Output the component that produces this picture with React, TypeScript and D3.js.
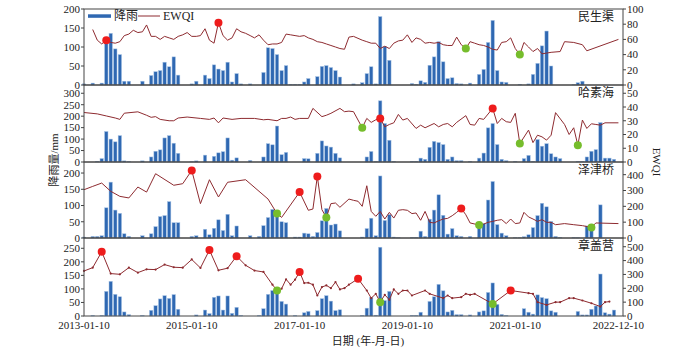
import React from 'react';
import * as d3 from 'd3';

// monthly rainfall (mm), Jan 2013 .. Dec 2022
const rainMSQ = [
  3, 0, 5, 0, 5, 116, 136, 95, 80, 10, 10, 0,
  0, 10, 0, 25, 35, 38, 60, 48, 74, 26, 0, 0,
  3, 10, 0, 26, 17, 53, 42, 38, 60, 8, 30, 3,
  0, 3, 0, 0, 33, 98, 96, 80, 38, 51, 2, 2,
  2, 8, 17, 0, 22, 49, 51, 46, 38, 21, 0, 0,
  3, 0, 6, 30, 48, 3, 180, 101, 65, 0, 0, 0,
  0, 4, 2, 11, 7, 52, 74, 114, 61, 17, 19, 4,
  3, 0, 5, 0, 28, 41, 112, 170, 38, 8, 7, 0,
  0, 2, 0, 3, 28, 57, 103, 142, 50, 0, 0, 0,
  0, 1, 6, 10, 0, 0, 0, 0, 0, 0, 0, 0,
];
const rainHSH = [
  0, 0, 0, 3, 15, 133, 100, 88, 115, 5, 2, 0,
  0, 5, 0, 22, 47, 53, 105, 115, 82, 38, 0, 0,
  2, 5, 0, 30, 0, 25, 40, 45, 105, 8, 18, 0,
  0, 7, 0, 0, 22, 80, 75, 157, 32, 42, 0, 0,
  0, 15, 14, 0, 38, 92, 70, 65, 38, 18, 0, 0,
  0, 0, 0, 22, 46, 3, 267, 168, 95, 3, 0, 0,
  0, 3, 3, 17, 12, 64, 90, 85, 76, 12, 22, 6,
  6, 0, 3, 0, 17, 39, 149, 168, 76, 12, 6, 0,
  3, 0, 15, 29, 3, 98, 69, 80, 36, 22, 15, 0,
  0, 0, 3, 3, 22, 47, 54, 172, 17, 17, 12, 0,
];
const rainZJQ = [
  3, 0, 5, 5, 7, 93, 172, 86, 76, 13, 5, 0,
  0, 7, 0, 13, 35, 66, 69, 112, 47, 47, 0, 0,
  5, 7, 0, 27, 10, 30, 56, 23, 73, 7, 37, 0,
  0, 7, 0, 5, 38, 63, 88, 76, 50, 47, 0, 3,
  3, 15, 13, 5, 17, 53, 91, 40, 43, 22, 0, 0,
  0, 0, 3, 29, 61, 7, 191, 54, 72, 3, 1, 0,
  0, 2, 2, 21, 5, 58, 86, 133, 70, 12, 29, 7,
  5, 0, 5, 0, 42, 44, 117, 174, 41, 15, 7, 0,
  1, 1, 4, 10, 32, 69, 107, 96, 51, 5, 2, 0,
  0, 2, 1, 0, 37, 32, 0, 102, 0, 0, 0, 0,
];
const rainZGY = [
  0, 0, 2, 0, 2, 91, 128, 80, 71, 15, 5, 0,
  0, 2, 0, 21, 38, 63, 75, 65, 79, 25, 0, 0,
  0, 4, 0, 22, 9, 69, 74, 22, 74, 10, 32, 2,
  0, 0, 0, 2, 27, 80, 94, 96, 54, 44, 0, 2,
  0, 12, 17, 0, 20, 64, 75, 55, 20, 23, 0, 0,
  0, 0, 2, 29, 69, 3, 254, 57, 91, 0, 0, 0,
  0, 2, 2, 14, 0, 54, 71, 117, 93, 15, 21, 5,
  5, 0, 4, 0, 15, 19, 87, 122, 43, 6, 2, 0,
  0, 0, 27, 14, 7, 78, 68, 64, 19, 14, 0, 0,
  0, 0, 17, 4, 4, 25, 37, 155, 12, 7, 22, 0,
];

// EWQI samples: month index (0 = 2013-01) and value
const monthsMSQ = [2, 3, 4, 5, 6, 7, 8, 9, 10, 11, 12, 13, 14, 15, 16, 17, 18, 19, 20, 21, 22, 23, 24, 25, 26, 27, 28, 29, 30, 31, 32, 33, 34, 35, 36, 37, 38, 39, 40, 41, 42, 43, 44, 45, 46, 47, 48, 49, 50, 51, 52, 53, 54, 55, 56, 57, 58, 59, 60,
  62, 63, 64, 65, 66, 67, 68, 69, 70, 71, 72, 73, 74, 75, 76, 77, 78, 79, 80, 81, 82, 83, 84, 85, 86, 87, 88, 89, 90, 91, 92, 93, 94, 95, 96, 97, 98, 99, 100, 101, 102, 103, 104,
  106, 107, 109, 111, 112, 119];
const ewqiMSQ = [73, 59, 54, 59, 56, 55, 57, 65, 67, 72, 69, 70, 79, 64, 64, 60, 64, 62, 60, 64, 66, 69, 64, 64, 65, 74, 59, 55, 82, 65, 59, 62, 74, 70, 68, 65, 62, 66, 59, 53, 54, 54, 56, 67, 66, 65, 64, 65, 62, 60, 57, 56, 54, 52, 50, 48, 47, 63, 64,
  59, 57, 55, 55, 48, 51, 48, 55, 58, 59, 66, 56, 62, 60, 55, 56, 55, 56, 53, 52, 52, 63, 53, 48, 57, 55, 53, 52, 50, 47, 46, 56, 57, 62, 48, 40, 56, 50, 44, 48, 41, 42, 43,
  44, 57, 56, 53, 45, 60];
const highMSQ = [5, 30];
const lowMSQ = [85, 97];

const monthsHSH = [0, 3, 5, 7, 8, 9, 12, 14, 15, 16, 17, 19, 20, 21, 23, 26, 28, 29, 30, 31, 33, 35, 38, 40, 41, 43, 44, 45, 46, 47, 48, 50, 51, 53, 54, 55, 57, 58,
  59, 60, 62, 63, 64, 65, 66, 67, 68, 69, 70, 71, 72, 74, 75, 76, 78, 79, 80, 81, 82, 83, 85, 86, 87, 88, 89, 91, 92, 93, 94, 95, 96, 97, 99, 100, 101, 102, 103, 104, 105, 107, 108, 109, 110, 111, 112, 113, 114, 115, 116, 119];
const ewqiHSH = [36, 35, 33.5, 32, 31, 35.5, 36.5, 34, 32.5, 33, 31, 30, 30, 32, 32.7, 31.7, 31, 32, 28.5, 32, 31, 31.7, 31.7, 30.7, 31, 30, 31.7, 31.7, 32.7, 31, 31.7, 31.7, 39, 33, 34, 35.4, 39, 36.6,
  37, 36.6, 24.9, 31.7, 28.8, 30.7, 31.7, 25.6, 27.3, 28.5, 34.6, 30.5, 31.7, 24.4, 26.8, 24.9, 28, 25.6, 27.3, 28, 25.6, 28.8, 33.7, 27.3, 26.8, 31.7, 31, 39, 28, 31.7, 29.3, 28.8, 35.4, 13.4, 23.2, 14.1, 19.5, 18.3, 15.9, 19.5, 35.9, 27.3, 20, 24.9, 12.2, 30.5, 24.4, 27.8, 27.3, 26.8, 28.5, 28.5];
const highHSH = [66, 91];
const lowHSH = [62, 97, 110];

const monthsZJQ = [0, 2, 4, 6, 8, 10, 12, 14, 16, 20, 22, 24, 26, 28, 30, 32, 36, 41, 43, 44, 48, 50, 51, 52, 53, 54, 55, 56, 57, 59,
  60, 61, 62, 63, 64, 65, 66, 67, 68, 69, 70, 71, 72, 73, 74, 75, 76, 77, 78, 79, 80, 81, 82, 83, 84, 85, 86,
  88, 89, 90, 91, 92, 93, 94, 95, 96, 97, 98, 99, 100, 101, 102, 103, 104, 105, 107, 109, 111, 113, 114, 119];
const ewqiZJQ = [305, 326, 347, 295, 263, 253, 322, 290, 406, 333, 343, 427, 217, 368, 259, 352, 368, 246, 154, 130, 290, 175, 183, 389, 179, 130, 217, 221, 194, 246,
  238, 232, 200, 330, 168, 137, 168, 120, 162, 126, 175, 179, 175, 154, 158, 112, 168, 99, 95, 109, 120, 124, 141, 162, 187, 147, 95,
  82, 88, 99, 105, 112, 116, 91, 120, 91, 95, 162, 133, 120, 105, 116, 99, 99, 84, 91, 84, 78, 67, 95, 91];
const highZJQ = [24, 48, 52, 84];
const lowZJQ = [43, 54, 88, 113];

const monthsZGY = [0, 2, 4, 6, 8, 10, 12, 14, 16, 18, 20, 22, 24, 26, 28, 30, 32, 34, 36, 38, 40,
  42, 43, 44, 45, 46, 47, 48, 49, 50, 51, 52, 53, 54, 55, 56, 57, 58, 59,
  61, 63, 64, 65, 66, 67, 68, 69, 70, 71, 72, 73, 76, 77, 80, 81, 82, 84, 85, 86, 87,
  91, 95, 99, 100, 101, 103, 105, 106, 108, 109, 111, 113, 115, 116, 117];
const ewqiZGY = [325, 349, 464, 306, 301, 349, 313, 337, 335, 371, 352, 349, 408, 347, 476, 330, 345, 432, 366, 328, 318,
  226, 184, 197, 265, 226, 262, 318, 238, 240, 226, 148, 209, 221, 201, 245, 192, 201, 226,
  269, 184, 129, 160, 100, 153, 117, 192, 160, 184, 184, 148, 184, 160, 129, 148, 129, 136, 160, 153, 160,
  87, 184, 165, 160, 100, 80, 100, 100, 129, 129, 112, 92, 68, 100, 104];
const highZGY = [4, 28, 34, 48, 61, 95];
const lowZGY = [43, 66, 91];

const xTickLabels = ['2013-01-10', '2015-01-10', '2017-01-10', '2019-01-10', '2021-01-10', '2022-12-10'];

const X0 = 84, X1 = 623;
const BAR = '#2f68b2', LINE = '#8e2b30', RED = '#ee1c1c', GREEN = '#76bd2c';
const FONT = "'Liberation Serif', 'Times New Roman', 'Noto Sans CJK SC', serif";

const monthDate = (i: number) => new Date(2013, i, 10);
const x = d3.scaleTime().domain([new Date(2013, 0, 10), new Date(2023, 0, 10)]).range([X0, X1]);

const panels = [
  { name: '民生渠', rain: rainMSQ, months: monthsMSQ, ewqi: ewqiMSQ, high: highMSQ, low: lowMSQ, top: 9, bottom: 85, rainMax: 200, rainStep: 50, ewqiMax: 100, ewqiStep: 20, dots: false },
  { name: '哈素海', rain: rainHSH, months: monthsHSH, ewqi: ewqiHSH, high: highHSH, low: lowHSH, top: 85, bottom: 162, rainMax: 336, rainStep: 50, ewqiMax: 56, ewqiStep: 10, dots: false },
  { name: '泽津桥', rain: rainZJQ, months: monthsZJQ, ewqi: ewqiZJQ, high: highZJQ, low: lowZJQ, top: 162, bottom: 238, rainMax: 234, rainStep: 50, ewqiMax: 480, ewqiStep: 100, dots: false },
  { name: '章盖营', rain: rainZGY, months: monthsZGY, ewqi: ewqiZGY, high: highZGY, low: lowZGY, top: 238, bottom: 316, rainMax: 288, rainStep: 50, ewqiMax: 563, ewqiStep: 100, dots: true },
];

function Panel({ p }: { p: typeof panels[0] }) {
  const yL = d3.scaleLinear().domain([0, p.rainMax]).range([p.bottom, p.top]);
  const yR = d3.scaleLinear().domain([0, p.ewqiMax]).range([p.bottom, p.top]);
  const pts = p.months.map((m, k) => [x(monthDate(m)), yR(p.ewqi[k])] as [number, number]);
  const line = d3.line()(pts) || '';
  const at = (m: number) => pts[p.months.indexOf(m)];
  const bw = 3.4;
  const leftTicks = d3.range(0, p.rainMax + 0.01, p.rainStep);
  const rightTicks = d3.range(0, p.ewqiMax + 0.01, p.ewqiStep);
  return (
    <g>
      {p.rain.map((v, i) => v > 0 ? (
        <rect key={i} x={x(monthDate(i)) - bw / 2} y={yL(v)} width={bw} height={p.bottom - yL(v)}
          fill={BAR} stroke="#a9c5e6" strokeWidth={0.5} />
      ) : null)}
      <path d={line} fill="none" stroke={LINE} strokeWidth={1} />
      {p.dots && pts.map((q, k) => <circle key={k} cx={q[0]} cy={q[1]} r={1.1} fill={LINE} />)}
      {p.high.map(m => { const q = at(m); return <circle key={'h' + m} cx={q[0]} cy={q[1]} r={4} fill={RED} />; })}
      {p.low.map(m => { const q = at(m); return <circle key={'l' + m} cx={q[0]} cy={q[1]} r={4} fill={GREEN} />; })}
      <rect x={X0} y={p.top} width={X1 - X0} height={p.bottom - p.top} fill="none" stroke="#444" strokeWidth={1} />
      {leftTicks.map(t => (
        <g key={'l' + t}>
          <line x1={X0} x2={X0 - 3} y1={yL(t)} y2={yL(t)} stroke="#444" />
          <text x={X0 - 4} y={yL(t)} dy="0.35em" textAnchor="end" fontSize={11}>{t}</text>
        </g>
      ))}
      {rightTicks.map(t => (
        <g key={'r' + t}>
          <line x1={X1} x2={X1 + 3} y1={yR(t)} y2={yR(t)} stroke="#444" />
          <text x={X1 + 4} y={yR(t)} dy="0.35em" textAnchor="start" fontSize={11}>{t}</text>
        </g>
      ))}
      <text x={614} y={p.top + 12} textAnchor="end" fontSize={12}>{p.name}</text>
    </g>
  );
}

export default function App() {
  return (
    <svg width={700} height={354} style={{ display: 'block', position: 'absolute', left: 0, top: 0, background: '#fff' }}
      fontFamily={FONT} fill="#222">
      {panels.map(p => <Panel key={p.name} p={p} />)}
      {/* legend */}
      <rect x={88} y={14.3} width={23} height={3.5} fill={BAR} />
      <text x={114} y={20} fontSize={12}>降雨</text>
      <line x1={138} x2={160} y1={16} y2={16} stroke={LINE} strokeWidth={1} />
      <text x={163} y={20} fontSize={12}>EWQI</text>
      {xTickLabels.map(s => (
        <text key={s} x={x(d3.timeParse('%Y-%m-%d')(s) as Date)} y={329} textAnchor="middle" fontSize={11}>{s}</text>
      ))}
      <text x={368} y={345} textAnchor="middle" fontSize={11}>日期 (年-月-日)</text>
      <text transform="translate(58,160) rotate(-90)" textAnchor="middle" fontSize={11}>降雨量/mm</text>
      <text transform="translate(653,162) rotate(90)" textAnchor="middle" fontSize={11}>EWQI</text>
    </svg>
  );
}
